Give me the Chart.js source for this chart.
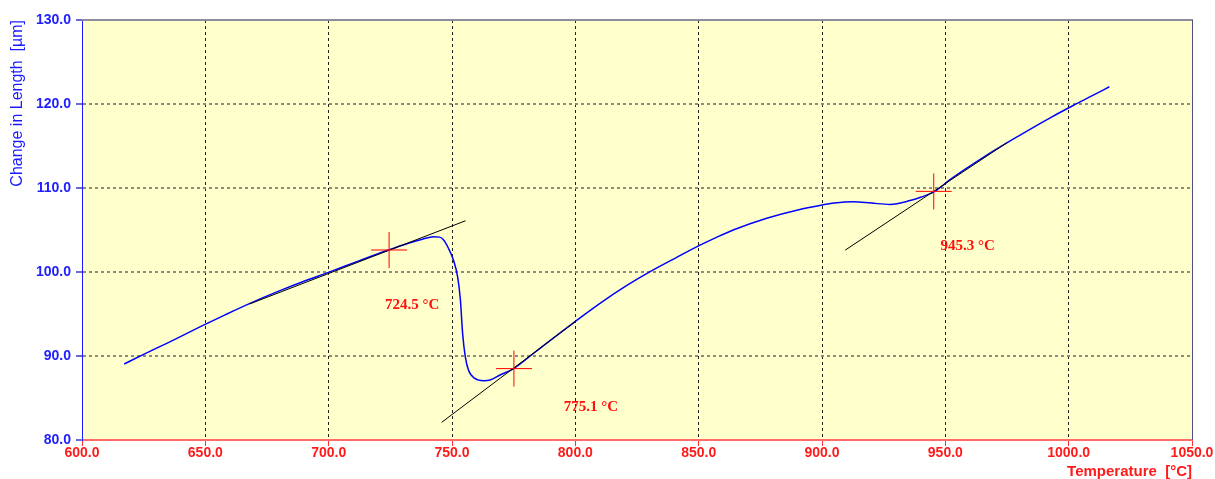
<!DOCTYPE html>
<html>
<head>
<meta charset="utf-8">
<title>Dilatometer curve</title>
<script src="https://cdn.jsdelivr.net/npm/chart.js@4/dist/chart.umd.min.js"></script>
<style>
  html, body { margin: 0; padding: 0; background: #ffffff; }
  #wrap { width: 1215px; height: 479px; }
</style>
</head>
<body>
<div id="wrap"><canvas id="dil" width="1215" height="479"></canvas></div>
<script>
// Measured dilatation: temperature (°C) and change in length (µm)
const temps = [
  617.1, 625, 635, 648, 658, 668.1, 680, 690, 699.9, 712, 724.2, 732, 738, 742.5, 745,
  746.6, 748.6, 750.6, 752.3, 753.4, 754.3, 755.4, 756.7, 759.4, 762.8, 765.5, 769.5,
  775, 783, 790, 799.9, 810, 820.1, 830.3, 840.4, 850.5, 857, 864, 877.6, 891, 899.6, 905,
  912.8, 920, 927.6, 935.7, 940, 945.6, 951.9, 965.4, 978.9, 992.5, 1002, 1010, 1016.5
];
const lengths = [
  89.05, 90.2, 91.6, 93.49, 94.9, 96.27, 97.75, 98.9, 99.95, 101.3, 102.62, 103.4, 103.9, 104.2, 104.15,
  103.8, 102.8, 101.4, 99.4, 96.7, 92.7, 89.9, 88.3, 87.3, 87.06, 87.15, 87.74,
  88.5, 90.3, 91.9, 94.1, 96.27, 98.25, 100.04, 101.63, 103.2, 104.1, 105.0, 106.4, 107.45, 107.95, 108.2,
  108.35, 108.2, 108.05, 108.5, 108.9, 109.56, 111.0, 113.65, 116.05, 118.35, 119.85, 121.05, 122.05
];

// Transformation points found by the tangent method
const transitionTemps = [724.5, 775.1, 945.3];
const transitionLengths = [102.62, 88.5, 109.6];

// Tangent line end points
const tangent1T = [668, 755.5];
const tangent1L = [96.2, 106.1];
const tangent2T = [745.8, 800];
const tangent2L = [82.1, 94.1];
const tangent3T = [909.4, 975];
const tangent3L = [102.6, 115.4];

// Axis ticks
const tempTicks = [600, 650, 700, 750, 800, 850, 900, 950, 1000, 1050];
const lengthTicks = [80, 90, 100, 110, 120, 130];

const pts = (xs, ys) => xs.map((x, i) => ({ x: x, y: ys[i] }));

const SANS = 'Arial, "Liberation Sans", sans-serif';
const SERIF = '"Times New Roman", "Liberation Serif", serif';

// Pale yellow plot background
const plotBackground = {
  id: 'plotBackground',
  beforeDraw(chart) {
    const { ctx, chartArea: a } = chart;
    ctx.save();
    ctx.fillStyle = '#ffffcc';
    ctx.fillRect(a.left, a.top, a.right - a.left, a.bottom - a.top);
    ctx.restore();
  }
};

// Top and right frame lines
const plotFrame = {
  id: 'plotFrame',
  afterDraw(chart) {
    const { ctx, chartArea: a } = chart;
    ctx.save();
    ctx.lineWidth = 2;
    ctx.strokeStyle = '#8c8c9c';
    ctx.beginPath();
    ctx.moveTo(a.left, a.top);
    ctx.lineTo(a.right + 1, a.top);
    ctx.stroke();
    ctx.lineWidth = 1;
    ctx.strokeStyle = '#50508a';
    ctx.beginPath();
    ctx.moveTo(a.right + 0.5, a.top);
    ctx.lineTo(a.right + 0.5, a.bottom);
    ctx.stroke();
    ctx.restore();
  }
};

// Temperature captions next to each transformation point
const transitionLabels = {
  id: 'transitionLabels',
  afterDatasetsDraw(chart, args, opts) {
    const { ctx, scales: { x, y } } = chart;
    ctx.save();
    ctx.font = 'bold 15px ' + SERIF;
    ctx.fillStyle = '#ff1010';
    ctx.textAlign = 'center';
    ctx.textBaseline = 'middle';
    transitionTemps.forEach((t, i) => {
      const px = x.getPixelForValue(t) + opts.offsets[i][0];
      const py = y.getPixelForValue(transitionLengths[i]) + opts.offsets[i][1];
      ctx.fillText(t.toFixed(1) + ' °C', px, py);
    });
    ctx.restore();
  }
};

new Chart(document.getElementById('dil'), {
  type: 'scatter',
  data: {
    datasets: [
      {
        label: 'transformation points',
        data: pts(transitionTemps, transitionLengths),
        showLine: false,
        pointStyle: 'cross',
        pointRadius: 18,
        pointBorderColor: '#ff0000',
        pointBorderWidth: 1
      },
      {
        label: 'tangent 1',
        data: pts(tangent1T, tangent1L),
        showLine: true, pointRadius: 0, borderColor: '#000000', borderWidth: 1
      },
      {
        label: 'tangent 2',
        data: pts(tangent2T, tangent2L),
        showLine: true, pointRadius: 0, borderColor: '#000000', borderWidth: 1
      },
      {
        label: 'tangent 3',
        data: pts(tangent3T, tangent3L),
        showLine: true, pointRadius: 0, borderColor: '#000000', borderWidth: 1
      },
      {
        label: 'Change in Length',
        data: pts(temps, lengths),
        showLine: true,
        pointRadius: 0,
        borderColor: '#0000ff',
        borderWidth: 1.5,
        cubicInterpolationMode: 'monotone'
      }
    ]
  },
  options: {
    responsive: false,
    animation: false,
    events: [],
    layout: { padding: { left: 0, top: 20, right: 23, bottom: 0 } },
    plugins: {
      legend: { display: false },
      tooltip: { enabled: false },
      transitionLabels: { offsets: [[23, 55], [77, 39], [34, 55]] }
    },
    scales: {
      x: {
        type: 'linear',
        min: 600,
        max: 1050,
        afterBuildTicks: (s) => { s.ticks = tempTicks.map(v => ({ value: v })); },
        afterFit: (s) => { s.height = 39; },
        ticks: {
          color: '#ff1a1a',
          font: { family: SANS, size: 14, weight: 'bold', lineHeight: 1 },
          padding: 0,
          maxRotation: 0,
          autoSkip: false,
          callback: (v) => Number(v).toFixed(1)
        },
        grid: {
          color: '#222222',
          lineWidth: 1,
          tickLength: 6,
          tickColor: '#ff3030',
          tickWidth: 1
        },
        border: { display: true, color: '#ff6a6a', width: 2, dash: [3, 3] },
        title: {
          display: true,
          text: 'Temperature  [°C]',
          align: 'end',
          color: '#ff1a1a',
          font: { family: SANS, size: 15, weight: 'bold', lineHeight: 1 },
          padding: { top: 0, bottom: 0 }
        }
      },
      y: {
        type: 'linear',
        min: 80,
        max: 130,
        afterBuildTicks: (s) => { s.ticks = lengthTicks.map(v => ({ value: v })); },
        afterFit: (s) => { s.width = 82; },
        ticks: {
          color: '#2020ff',
          font: { family: SANS, size: 14, weight: 'bold' },
          padding: 5,
          callback: (v) => Number(v).toFixed(1)
        },
        grid: {
          color: '#8c8c80',
          lineWidth: 2,
          tickLength: 6,
          tickColor: '#6a6ad0',
          tickWidth: 2
        },
        border: { display: true, color: '#1a1aff', width: 1, dash: [3, 3] },
        title: {
          display: true,
          text: 'Change in Length  [µm]',
          align: 'end',
          color: '#1a1aff',
          font: { family: SANS, size: 16, weight: 'normal' },
          padding: { top: 8, bottom: 0 }
        }
      }
    }
  },
  plugins: [plotBackground, plotFrame, transitionLabels]
});
</script>
</body>
</html>
